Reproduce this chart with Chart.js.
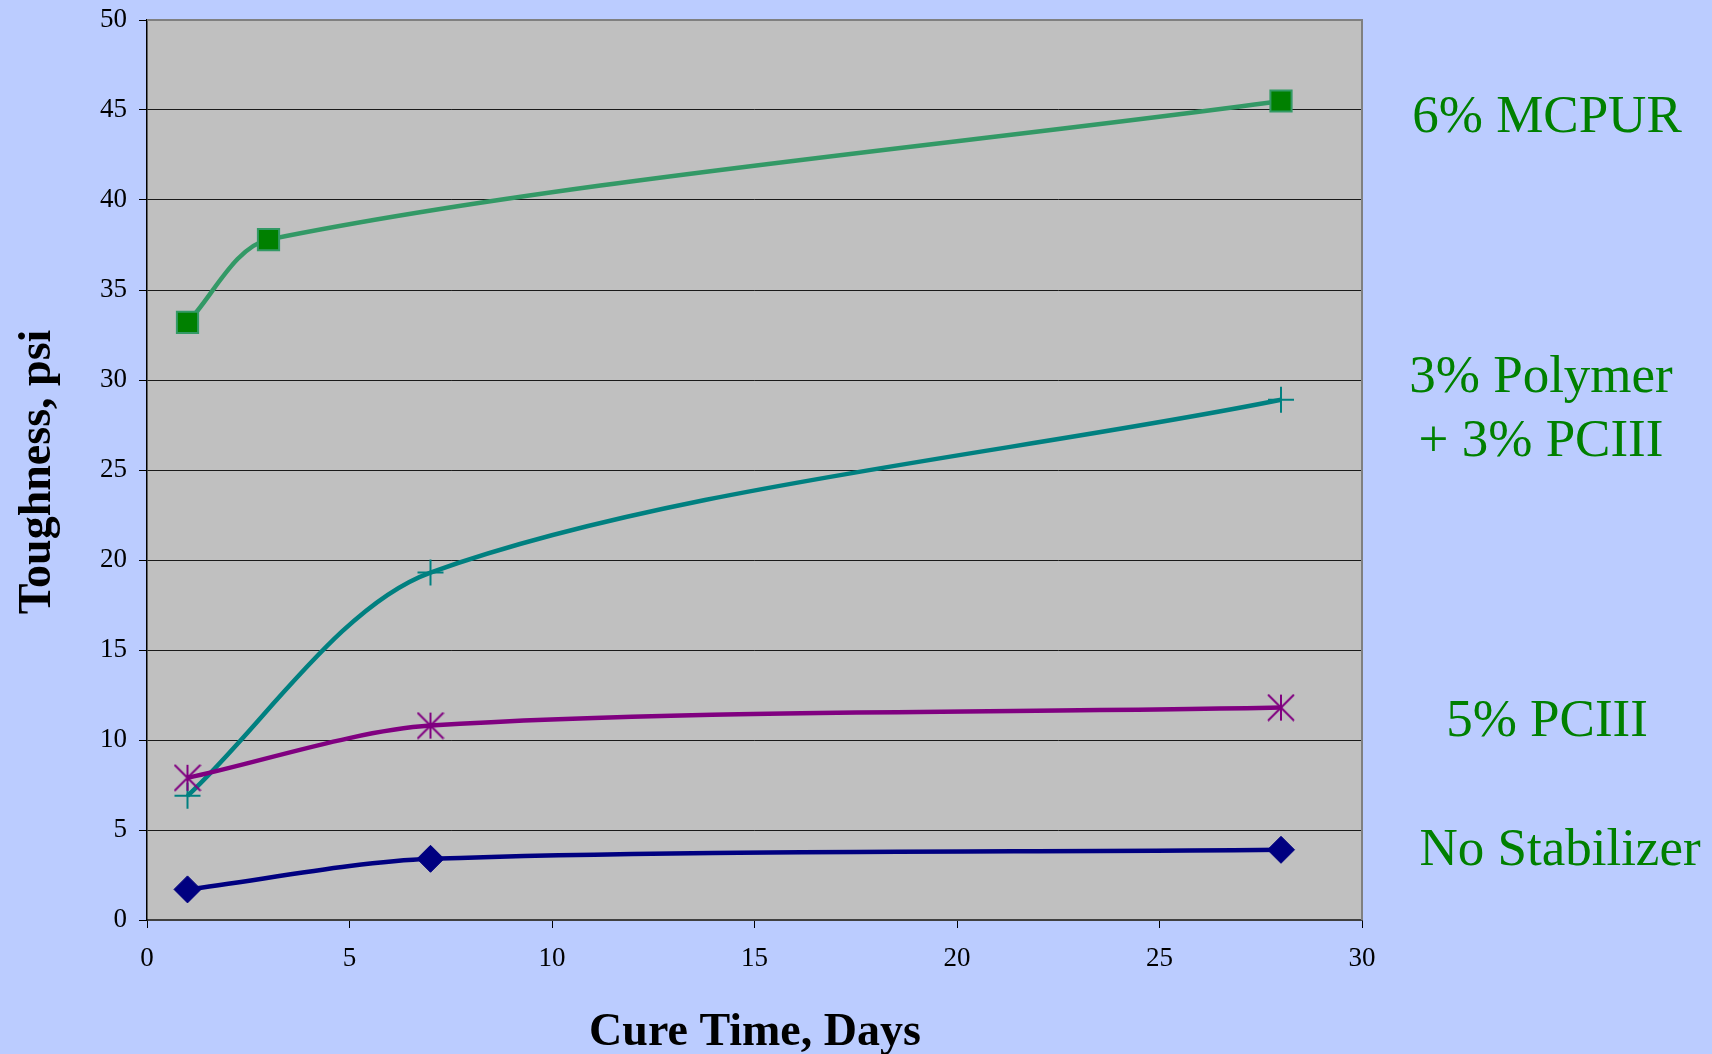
<!DOCTYPE html>
<html>
<head>
<meta charset="utf-8">
<script src="https://cdn.jsdelivr.net/npm/chart.js@4.4.1/dist/chart.umd.min.js"></script>
<style>
  html, body { margin: 0; padding: 0; background: #BBCCFF; }
  #wrap { position: relative; width: 1712px; height: 1054px; }
</style>
</head>
<body>
<div id="wrap"><canvas id="chart" width="1712" height="1054"></canvas></div>
<script>
// Toughness (psi) versus cure time (days) for each stabilizer treatment
const mcpurDays = [1, 3, 28];
const mcpurToughness = [33.2, 37.8, 45.5];

const blendDays = [1, 7, 28];
const blendToughness = [6.9, 19.3, 28.9];

const pciiiDays = [1, 7, 28];
const pciiiToughness = [7.9, 10.8, 11.8];

const noStabDays = [1, 7, 28];
const noStabToughness = [1.7, 3.4, 3.9];

const xTicks = [0, 5, 10, 15, 20, 25, 30];
const yTicks = [0, 5, 10, 15, 20, 25, 30, 35, 40, 45, 50];

const seriesLabels = [
  { lines: ['6% MCPUR'], x: 1547, y: [132] },
  { lines: ['3% Polymer', '+ 3% PCIII'], x: 1541, y: [392, 456] },
  { lines: ['5% PCIII'], x: 1547, y: [736] },
  { lines: ['No Stabilizer'], x: 1560, y: [865] }
];

const SERIF = '"Times New Roman", "Liberation Serif", "DejaVu Serif", serif';
const SMOOTHING = 0.3;

function pairs(xs, ys) {
  return xs.map((x, i) => ({ x: x, y: ys[i] }));
}

// Asterisk marker: an X with a vertical stroke through it
function asteriskMarker(color, size, lw) {
  const c = document.createElement('canvas');
  c.width = size; c.height = size;
  const g = c.getContext('2d');
  g.strokeStyle = color;
  g.lineWidth = lw;
  g.lineCap = 'butt';
  const a = 1, b = size - 1, m = size / 2;
  g.beginPath();
  g.moveTo(a, a); g.lineTo(b, b);
  g.moveTo(b, a); g.lineTo(a, b);
  g.moveTo(m, a); g.lineTo(m, b);
  g.stroke();
  return c;
}

const plotFrame = {
  id: 'plotFrame',
  beforeDraw(chart) {
    const { ctx, chartArea: a } = chart;
    ctx.save();
    ctx.fillStyle = '#C0C0C0';
    ctx.fillRect(a.left, a.top, a.right - a.left, a.bottom - a.top);
    ctx.restore();
  },
  beforeDatasetsDraw(chart) {
    const { ctx, chartArea: a } = chart;
    ctx.save();
    ctx.strokeStyle = '#808080';
    ctx.lineWidth = 2;
    ctx.beginPath();
    ctx.moveTo(a.left, a.top);
    ctx.lineTo(a.right, a.top);
    ctx.lineTo(a.right, a.bottom);
    ctx.stroke();
    ctx.restore();
  },
  afterDraw(chart) {
    const { ctx } = chart;
    ctx.save();
    // axis titles
    ctx.fillStyle = '#000000';
    ctx.font = 'bold 46px ' + SERIF;
    ctx.textAlign = 'center';
    ctx.textBaseline = 'alphabetic';
    ctx.fillText('Cure Time, Days', 755, 1045);
    ctx.save();
    ctx.translate(50, 472);
    ctx.rotate(-Math.PI / 2);
    ctx.fillText('Toughness, psi', 0, 0);
    ctx.restore();
    // series names to the right of the plot
    ctx.fillStyle = '#008000';
    ctx.font = '53px ' + SERIF;
    seriesLabels.forEach(s => {
      s.lines.forEach((t, i) => ctx.fillText(t, s.x, s.y[i]));
    });
    ctx.restore();
  }
};

const ctx = document.getElementById('chart').getContext('2d');
new Chart(ctx, {
  type: 'line',
  data: {
    datasets: [
      {
        label: 'No Stabilizer',
        data: pairs(noStabDays, noStabToughness),
        borderColor: '#000080',
        backgroundColor: '#000080',
        borderWidth: 4.5,
        pointStyle: 'rectRot',
        pointRadius: 13.5,
        pointBorderWidth: 1,
        tension: SMOOTHING
      },
      {
        label: '5% PCIII',
        data: pairs(pciiiDays, pciiiToughness),
        borderColor: '#800080',
        backgroundColor: '#800080',
        borderWidth: 4.5,
        pointStyle: asteriskMarker('#800080', 28, 2),
        pointRadius: 13,
        tension: SMOOTHING
      },
      {
        label: '3% Polymer + 3% PCIII',
        data: pairs(blendDays, blendToughness),
        borderColor: '#008080',
        backgroundColor: '#008080',
        borderWidth: 4.5,
        pointStyle: 'cross',
        pointRadius: 13,
        pointBorderWidth: 2,
        tension: SMOOTHING
      },
      {
        label: '6% MCPUR',
        data: pairs(mcpurDays, mcpurToughness),
        borderColor: '#339966',
        backgroundColor: '#008000',
        pointBorderColor: '#339966',
        borderWidth: 4.5,
        pointStyle: 'rect',
        pointRadius: 15,
        pointBorderWidth: 2,
        tension: SMOOTHING
      }
    ]
  },
  options: {
    responsive: false,
    animation: false,
    devicePixelRatio: 1,
    layout: { padding: { left: 0, right: 350, top: 20, bottom: 0 } },
    plugins: {
      legend: { display: false },
      tooltip: { enabled: false }
    },
    elements: { line: { fill: false } },
    scales: {
      x: {
        type: 'linear',
        min: 0,
        max: 30,
        afterFit(scale) {
          scale.height = 134;
          scale.paddingLeft = 0;
          scale.paddingRight = 0;
        },
        afterBuildTicks(scale) { scale.ticks = xTicks.map(v => ({ value: v })); },
        grid: {
          drawOnChartArea: false,
          drawTicks: true,
          tickLength: 8,
          tickColor: '#000000',
          tickWidth: 1
        },
        border: { display: true, color: '#404040', width: 2 },
        ticks: {
          color: '#000000',
          padding: 15,
          maxRotation: 0,
          autoSkip: false,
          font: { family: SERIF, size: 27 }
        }
      },
      y: {
        min: 0,
        max: 50,
        afterFit(scale) {
          scale.width = 147;
          scale.paddingTop = 0;
          scale.paddingBottom = 0;
        },
        afterBuildTicks(scale) { scale.ticks = yTicks.map(v => ({ value: v })); },
        grid: {
          color: c => (c.tick && c.tick.value === 50) ? 'rgba(0,0,0,0)' : '#1a1a1a',
          lineWidth: 1,
          drawTicks: true,
          tickLength: 8,
          tickColor: '#000000'
        },
        border: { display: true, color: '#000000', width: 1.5 },
        ticks: {
          color: '#000000',
          padding: 12,
          autoSkip: false,
          font: { family: SERIF, size: 27 }
        }
      }
    }
  },
  plugins: [plotFrame]
});
</script>
</body>
</html>
